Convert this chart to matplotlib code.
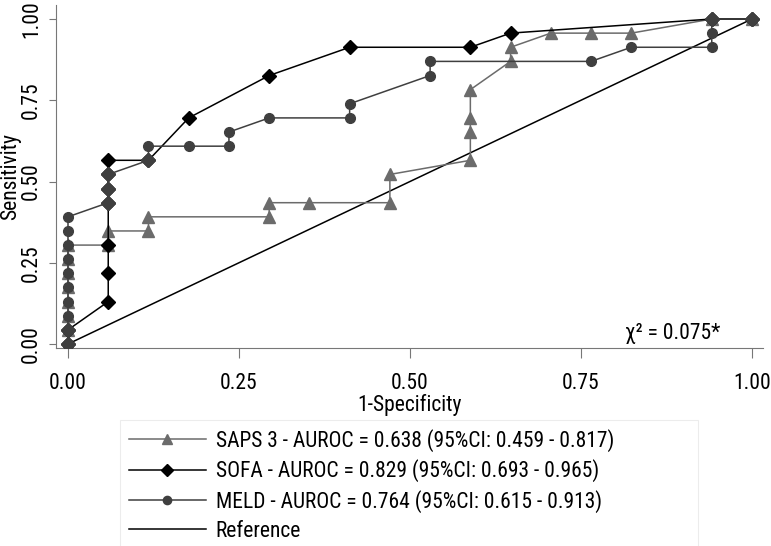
import matplotlib
matplotlib.use("Agg")
import matplotlib.pyplot as plt
import numpy as np

plt.rcParams['font.family'] = ['Roboto Condensed', 'Archivo Narrow', 'DejaVu Sans']

# ROC points: 17 negatives, 23 positives -> (fp count, tp count)
n_neg = 17
n_pos = 23

saps_fp = [0, 0, 0, 0, 0, 0, 0, 0, 1, 1, 2, 2, 5, 5, 6, 8, 8, 10, 10, 10, 10, 11, 11, 12, 13, 14, 16, 17]
saps_tp = [0, 1, 2, 3, 4, 5, 6, 7, 7, 8, 8, 9, 9, 10, 10, 10, 12, 13, 15, 16, 18, 20, 21, 22, 22, 22, 23, 23]

sofa_fp = [0, 0, 1, 1, 1, 1, 1, 1, 1, 2, 3, 5, 7, 10, 11, 16, 17]
sofa_tp = [0, 1, 3, 5, 7, 10, 11, 12, 13, 13, 16, 19, 21, 21, 22, 23, 23]

meld_fp = [0, 0, 0, 0, 0, 0, 0, 0, 0, 0, 1, 1, 1, 2, 2, 3, 4, 4, 5, 7, 7, 9, 9, 13, 14, 16, 16, 16, 17]
meld_tp = [0, 1, 2, 3, 4, 5, 6, 7, 8, 9, 10, 11, 12, 13, 14, 14, 14, 15, 16, 16, 17, 19, 20, 20, 21, 21, 22, 23, 23]

labels = [
    "SAPS 3 - AUROC = 0.638 (95%CI: 0.459 - 0.817)",
    "SOFA - AUROC = 0.829 (95%CI: 0.693 - 0.965)",
    "MELD - AUROC = 0.764 (95%CI: 0.615 - 0.913)",
    "Reference",
]
ticks = [0.0, 0.25, 0.5, 0.75, 1.0]
chi_text = "\u03c7\u00b2 = 0.075*"

saps_x = np.array(saps_fp) / n_neg
saps_y = np.array(saps_tp) / n_pos
sofa_x = np.array(sofa_fp) / n_neg
sofa_y = np.array(sofa_tp) / n_pos
meld_x = np.array(meld_fp) / n_neg
meld_y = np.array(meld_tp) / n_pos

c_saps = '#6b6b6b'
c_meld = '#3f3f3f'
fs = 15.5

fig = plt.figure(figsize=(7.71, 5.46), dpi=100)
ax = fig.add_axes([56 / 771, 1 - 348 / 546, (763 - 56) / 771, (348 - 5) / 546])

l1, = ax.plot(saps_x, saps_y, color=c_saps, lw=1.1, marker='^', ms=8,
              mfc=c_saps, mec=c_saps, zorder=3)
l2, = ax.plot(sofa_x, sofa_y, color='black', lw=1.1, marker='D', ms=7.5,
              mfc='black', mec='black', zorder=4)
l3, = ax.plot(meld_x, meld_y, color=c_meld, lw=1.1, marker='o', ms=7,
              mfc=c_meld, mec=c_meld, zorder=5)
# where SOFA and MELD share a point, the diamond shows in grey
both = set(zip(sofa_fp, sofa_tp)) & set(zip(meld_fp, meld_tp))
bx = [p[0] / n_neg for p in both]
by = [p[1] / n_pos for p in both]
ax.plot(bx, by, ls='none', marker='D', ms=7.5, mfc=c_meld, mec=c_meld, zorder=6)
l4, = ax.plot([0, 1], [0, 1], color='black', lw=1.1, zorder=2)

ax.set_xlim(-12 / 684, 1 + 11 / 684)
ax.set_ylim(-4 / 325, 1 + 14 / 325)
ax.set_xticks(ticks)
ax.set_yticks(ticks)
ax.set_xticklabels(["%.2f" % t for t in ticks], fontsize=fs)
ax.set_yticklabels(["%.2f" % t for t in ticks], fontsize=fs, rotation=90, va='center')
ax.tick_params(axis='x', direction='out', length=7, width=0.8, color='#777777', pad=11)
ax.tick_params(axis='y', direction='out', length=5, width=0.8, color='#777777', pad=5)
for s in ['top', 'right']:
    ax.spines[s].set_visible(False)
for s in ['left', 'bottom']:
    ax.spines[s].set_color('#777777')
    ax.spines[s].set_linewidth(0.8)
ax.set_xlabel("1-Specificity", fontsize=fs, labelpad=0)
ax.set_ylabel("Sensitivity", fontsize=fs, labelpad=0)

ax.text((720 - 68) / 684, (344 - 333) / 325, chi_text, fontsize=fs, ha='right', va='center')

leg = fig.legend([l1, l2, l3, l4], labels, loc='upper left', mode='expand',
                 bbox_to_anchor=(120 / 771, 1 - 420 / 546, (698 - 120) / 771, 0.0),
                 fontsize=fs, frameon=True, fancybox=False, edgecolor='#e8e8e8',
                 handlelength=3.6, handletextpad=0.45, borderpad=0.4,
                 borderaxespad=0, labelspacing=0.36, markerscale=0.85)
leg.get_frame().set_linewidth(0.8)

fig.savefig("out.png", dpi=100)
